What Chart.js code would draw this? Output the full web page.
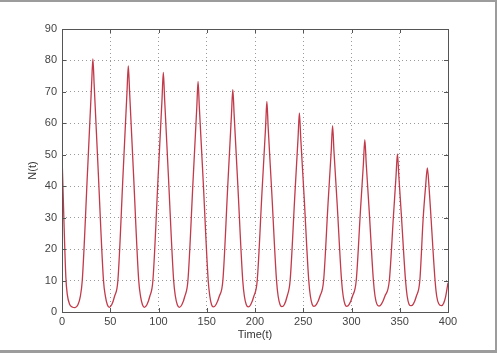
<!DOCTYPE html>
<html>
<head>
<meta charset="utf-8">
<script src="https://cdn.jsdelivr.net/npm/chart.js@4.4.1/dist/chart.umd.min.js"></script>
<style>
  body { margin: 0; background: #fff; }
  #wrap { position: relative; width: 500px; height: 353px; }
  #myChart { position: absolute; left: 0; top: 0; }
  .edge { position: absolute; background: #9c9c9c; }
</style>
</head>
<body>
<div id="wrap">
  <canvas id="myChart" width="500" height="353"></canvas>
  <div class="edge" style="left:0;top:0;width:497px;height:2px"></div>
  <div class="edge" style="left:495px;top:0;width:2px;height:353px"></div>
  <div class="edge" style="left:0;top:350px;width:497px;height:3px"></div>
</div>
<script>
// N(t), peak by peak
let timeValues = [
  0, 2, 4, 5.5, 8, 10.5, 13.5, 16.5, 19, 21, 26.5, 30.7, 32, 33.3, 37.5, 43,
  45, 47, 49, 51.5, 54.5, 57.9, 63.3, 67.4, 68.7, 70, 74.1, 79.5,
  81.4, 83.4, 85.3, 88, 91, 94.2, 99.6, 103.7, 105, 106.3, 110.3, 115.7,
  117.5, 119.5, 121.5, 124.2, 127.3, 130.5, 135.8, 139.7, 141, 142.3, 146.3, 151.5,
  153.2, 155, 156.8, 159.5, 163, 166.7, 171.8, 175.6, 177, 178.4, 182.2, 187.3,
  189, 191, 193, 195.5, 198.8, 202.3, 207.3, 211, 212.3, 213.6, 217.3, 222.3,
  224, 226, 227.8, 230.3, 233.3, 236.4, 241.2, 244.6, 246, 247.4, 250.9, 255.7,
  257.4, 259.3, 261, 263.7, 267.3, 271.1, 275.7, 279, 280.4, 281.8, 285.1, 289.7,
  291.4, 293.3, 295, 297.6, 301, 304.9, 309.3, 312.3, 313.8, 315.3, 318.3, 322.7,
  324.4, 326.3, 328.5, 331, 334.6, 339.2, 343.4, 346.1, 347.6, 349.1, 351.8, 356,
  357.7, 359.6, 361.7, 364, 367.2, 370.8, 374.3, 376.8, 378.6, 380.3, 382.4, 386.6,
  388.3, 390.4, 393.3, 395.5, 397.5, 400
]
let nValues = [
  50, 29, 11, 5.5, 2.4, 1.6, 1.4, 2.3, 5, 10, 45, 72.5, 80.5, 72.5, 45, 10,
  5, 2.3, 1.5, 2.3, 5, 10, 44, 70.3, 78.3, 70.3, 44, 10,
  5, 2.3, 1.5, 2.3, 5, 10, 43, 68, 76.2, 68, 43, 10,
  5, 2.3, 1.5, 2.3, 5, 10, 41.7, 65.3, 73.3, 65.3, 41.7, 10,
  5, 2.3, 1.6, 2.3, 5, 10, 40.3, 62.7, 70.7, 62.7, 40.3, 10,
  5, 2.3, 1.6, 2.3, 5, 10, 38.5, 59, 67, 59, 38.5, 10,
  5, 2.3, 1.7, 2.3, 5, 10, 36.7, 55.3, 63.3, 55.3, 36.7, 10,
  5, 2.4, 1.8, 2.4, 5, 10, 34.6, 51.3, 59.3, 51.3, 34.6, 10,
  5, 2.4, 1.8, 2.4, 5, 10, 32.4, 47, 54.8, 47, 32.4, 10,
  5, 2.5, 1.9, 2.5, 5, 10, 30.2, 43, 50.3, 43, 30.2, 10,
  5, 2.5, 2, 2.5, 5, 10, 30, 40, 45.8, 40, 30, 10,
  5, 2.6, 2, 2.8, 4.8, 9.3
]
let xTitle = 'Time(t)'
let yTitle = 'N(t)'

let points = timeValues.map((t, i) => ({x: t, y: nValues[i]}))

let fontFam = '"Liberation Sans", Arial, sans-serif'
let gridStyle = {
   color: '#9a9a9a',
   lineWidth: 1,
   drawTicks: false
}

// matlab style box with inward ticks
let boxPlugin = {
   id: 'box',
   afterDraw(chart) {
      let {ctx, chartArea: a, scales} = chart
      ctx.save()
      ctx.strokeStyle = '#555'
      ctx.lineWidth = 1
      ctx.beginPath()
      scales.x.ticks.forEach(tk => {
         let px = Math.round(scales.x.getPixelForValue(tk.value)) + 0.5
         ctx.moveTo(px, a.bottom); ctx.lineTo(px, a.bottom - 4)
         ctx.moveTo(px, a.top); ctx.lineTo(px, a.top + 4)
      })
      scales.y.ticks.forEach(tk => {
         let py = Math.round(scales.y.getPixelForValue(tk.value)) + 0.5
         ctx.moveTo(a.left, py); ctx.lineTo(a.left + 4, py)
         ctx.moveTo(a.right, py); ctx.lineTo(a.right - 4, py)
      })
      ctx.stroke()
      ctx.strokeRect(Math.round(a.left) + 0.5, Math.round(a.top) + 0.5,
         Math.round(a.right - a.left), Math.round(a.bottom - a.top))
      ctx.restore()
   }
}

let ctx = document.getElementById('myChart').getContext('2d')
let myChart = new Chart(ctx, {
   type: 'line',
   data: {
      datasets: [{
         data: points,
         borderColor: '#c23a4a',
         borderWidth: 1.3,
         pointRadius: 0,
         cubicInterpolationMode: 'monotone',
         fill: false
      }]
   },
   options: {
      responsive: false,
      animation: false,
      devicePixelRatio: 1,
      layout: {padding: {left: 0, top: 29, right: 52, bottom: 0}},
      plugins: {legend: {display: false}, tooltip: {enabled: false}},
      scales: {
         x: {
            type: 'linear',
            min: 0, max: 400,
            ticks: {stepSize: 50, color: '#444', padding: 3, maxRotation: 0,
               font: {family: fontFam, size: 11}},
            grid: {...gridStyle},
            border: {display: false, dash: [1, 3]},
            title: {display: true, text: xTitle, color: '#333',
               font: {family: fontFam, size: 11}, padding: {top: 0, bottom: 11}},
            afterFit(scale) { scale.height = 41 }
         },
         y: {
            min: 0, max: 90,
            ticks: {stepSize: 10, color: '#444', padding: 5,
               font: {family: fontFam, size: 11}},
            grid: {...gridStyle},
            border: {display: false, dash: [1, 3]},
            title: {display: true, text: yTitle, color: '#333',
               font: {family: fontFam, size: 11}, padding: {top: 26, bottom: 0}},
            afterFit(scale) { scale.width = 62 }
         }
      }
   },
   plugins: [boxPlugin]
})
</script>
</body>
</html>
